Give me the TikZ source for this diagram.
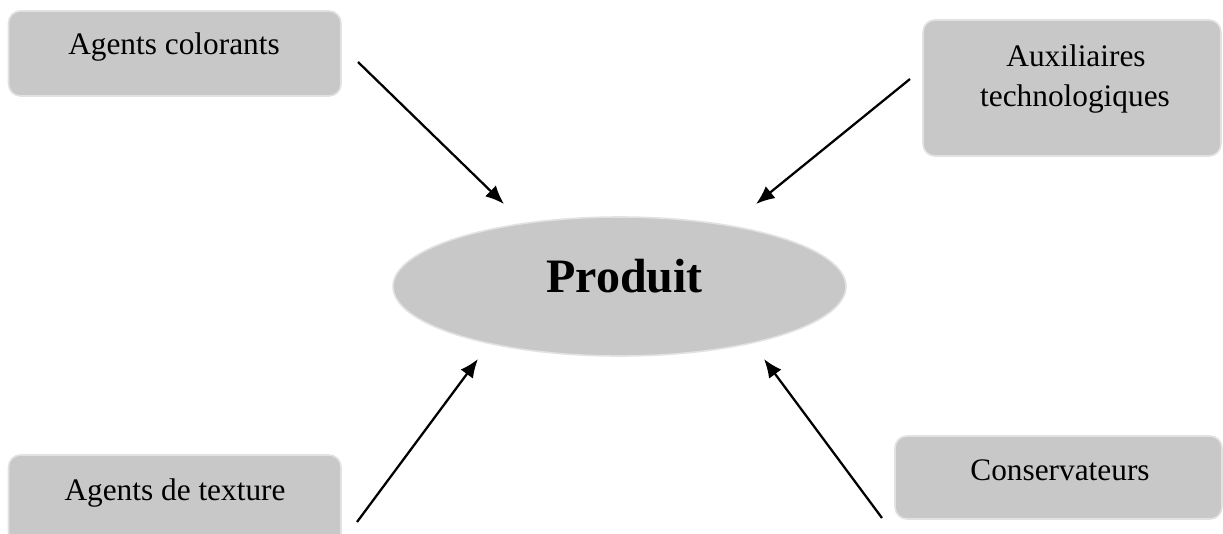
\documentclass[tikz,border=0pt]{standalone}
\usepackage{fontspec}
\setmainfont{Liberation Serif}
\usetikzlibrary{arrows.meta,shapes.geometric}
\definecolor{boxfill}{HTML}{C8C8C8}
\definecolor{boxedge}{HTML}{E2E2E2}
\tikzset{
  box/.style={draw=boxedge, line width=1.2pt, fill=boxfill, rounded corners=9pt, inner sep=0pt},
  lbl/.style={anchor=base, inner sep=0pt, font=\fontsize{23.5pt}{30pt}\selectfont, align=center},
  arr/.style={line width=1.7pt, -{Latex[length=14pt,width=11.5pt]}}
}
\begin{document}
\begin{tikzpicture}[x=0.75pt,y=-0.75pt]
\useasboundingbox (0,0) rectangle (1223,533);
\clip (0,0) rectangle (1223,533);
% boxes
\node[box, minimum width=249.4pt, minimum height=63.75pt] (b1) at (174.75,53.5) {};
\node[box, minimum width=223.5pt, minimum height=102pt] (b2) at (1072,88) {};
\node[box, minimum width=249.4pt, minimum height=69.75pt] (b3) at (174.75,501.5) {};
\node[box, minimum width=245.25pt, minimum height=62.25pt] (b4) at (1058.5,477.5) {};
% labels
\node[lbl] (t1) at (174,54) {Agents colorants};
\node[lbl] (t2a) at (1076,66) {Auxiliaires};
\node[lbl] (t2b) at (1075,106.5) {technologiques};
\node[lbl] (t3) at (175,500) {Agents de texture};
\node[lbl] (t4) at (1060,480) {Conservateurs};
% ellipse
\node[ellipse, draw=boxedge, line width=1.2pt, fill=boxfill, minimum width=339.75pt, minimum height=104.25pt, inner sep=0pt] (p) at (619.5,286.5) {};
\node[anchor=base, inner sep=0pt, font=\fontsize{36pt}{40pt}\selectfont\bfseries] (pt) at (624.5,292.5) {Produit};
% arrow endpoints
\coordinate (s1) at (358,62);   \coordinate (e1) at (504,204);
\coordinate (s2) at (910,79);   \coordinate (e2) at (756,204);
\coordinate (s3) at (357,522);  \coordinate (e3) at (478,359);
\coordinate (s4) at (882,518);  \coordinate (e4) at (764,359);
\draw[arr] (s1) -- (e1);
\draw[arr] (s2) -- (e2);
\draw[arr] (s3) -- (e3);
\draw[arr] (s4) -- (e4);
\end{tikzpicture}
\end{document}
